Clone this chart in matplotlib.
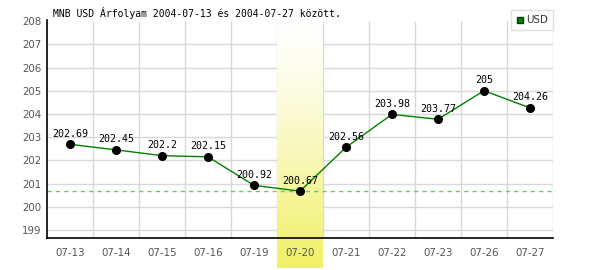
import numpy as np
import matplotlib
matplotlib.use('Agg')
import matplotlib.pyplot as plt
from matplotlib.lines import Line2D

# Data
dates = ['07-13', '07-14', '07-15', '07-16', '07-19', '07-20',
         '07-21', '07-22', '07-23', '07-26', '07-27']
rates = [202.69, 202.45, 202.2, 202.15, 200.92, 200.67,
         202.56, 203.98, 203.77, 205, 204.26]
labels = ['202.69', '202.45', '202.2', '202.15', '200.92', '200.67',
          '202.56', '203.98', '203.77', '205', '204.26']
highlight = '07-20'
title = 'MNB USD Árfolyam 2004-07-13 és 2004-07-27 között.'

fig = plt.figure(figsize=(6, 2.7), dpi=100)
ax = fig.add_axes([47/600, 32/270, 506/600, 218/270])
ax.set_facecolor('white')

x = np.arange(len(dates))
ymin, ymax = 198.65, 208.05

# Grid, drawn by hand so that the band can cover it but not the tick labels
yt = np.arange(199, 209)
ax.hlines(yt[:-1], -0.5, len(dates) - 0.5, color='#d8d8d8', linewidth=1, zorder=0.5)
ax.vlines(np.arange(0.5, len(dates)), ymin, 208, color='#d8d8d8', linewidth=1, zorder=0.5)

# Highlighted day: vertical gradient band, reaching below the axis
hi = dates.index(highlight)
grad = np.linspace(0, 1, 256).reshape(-1, 1)
top_c = np.array([1.0, 1.0, 1.0])
bot_c = np.array([240, 240, 100]) / 255
img = top_c + (bot_c - top_c) * grad ** 1.3
img = img[:, np.newaxis, :].repeat(2, axis=1)
ax.imshow(img, extent=(hi - 0.5, hi + 0.5, 197.35, 208.05), origin='upper',
          aspect='auto', clip_on=False, zorder=1, interpolation='bilinear')
ax.set_xlim(-0.5, len(dates) - 0.5)
ax.set_ylim(ymin, ymax)

# Minimum dashed line
ax.axhline(min(rates), color='#66cc66', linestyle=(0, (3, 3)), linewidth=1, zorder=2)

# Series
ax.plot(x, rates, color='#008000', linewidth=1, zorder=3)
ax.plot(x, rates, 'o', color='black', markersize=5.5, zorder=4)
for xi, yi, lab in zip(x, rates, labels):
    ax.annotate(lab, (xi, yi), xytext=(0, 4), textcoords='offset points',
                ha='center', va='bottom', fontsize=7.2,
                family='DejaVu Sans Mono', color='black', zorder=5)

ax.set_yticks(yt)
ax.set_xticks(x)
ax.set_xticklabels(dates)
ax.set_axisbelow(False)
ax.tick_params(axis='both', which='both', length=0, labelsize=7.4, labelcolor='#555555')
ax.tick_params(axis='x', pad=7)
ax.tick_params(axis='y', pad=4)

for s in ['top', 'right']:
    ax.spines[s].set_visible(False)
for s in ['left', 'bottom']:
    ax.spines[s].set_color('black')
    ax.spines[s].set_linewidth(1.2)
    ax.spines[s].set_zorder(6)

fig.text(53/600, 1 - 13/270, title, fontsize=7.0, family='DejaVu Sans Mono',
         va='center', ha='left', color='black')

handle = Line2D([], [], marker='s', linestyle='none', markerfacecolor='#008000',
                markeredgecolor='#004000', markersize=5)
leg = fig.legend([handle], ['USD'], loc='upper right',
                 bbox_to_anchor=(553/600, 1 - 10/270), fontsize=7.4,
                 frameon=True, fancybox=False, handlelength=0.8,
                 handletextpad=0.2, borderpad=0.5, borderaxespad=0)
leg.get_frame().set_edgecolor('#d8d8d8')
leg.get_frame().set_linewidth(1)
for t in leg.get_texts():
    t.set_color('#333333')

fig.savefig('out.png', dpi=100)
